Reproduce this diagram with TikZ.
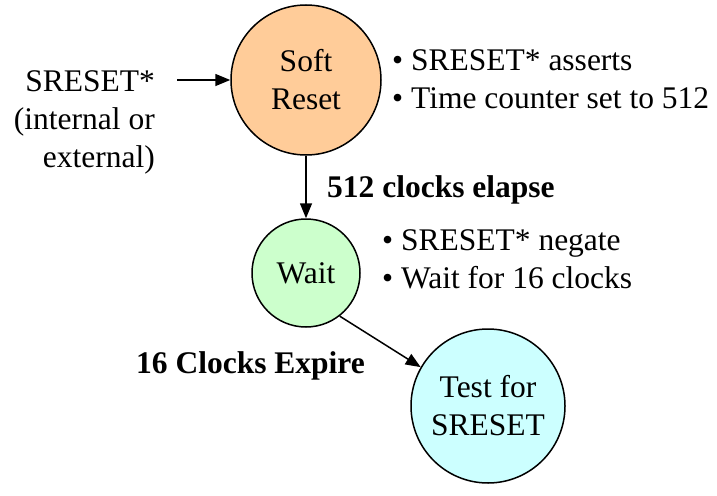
\documentclass[tikz,border=0pt]{standalone}
\usepackage{fontspec}
\setmainfont{Liberation Serif}
\usetikzlibrary{arrows.meta}
\definecolor{softfill}{HTML}{FFCC99}
\definecolor{waitfill}{HTML}{CCFFCC}
\definecolor{testfill}{HTML}{CCFFFF}
\begin{document}
\begin{tikzpicture}[x=1pt,y=-1pt,
  every node/.style={font=\fontsize{31.5}{38}\selectfont},
  state/.style={circle,draw=black,line width=1.5pt,inner sep=0pt,align=center},
  note/.style={align=left,inner sep=0pt},
  conn/.style={line width=1.5pt,-{Triangle[length=15pt,width=12pt]}},
  trans/.style={inner sep=0pt,font=\fontsize{31.5}{38}\selectfont\bfseries}]
  \useasboundingbox (0,0) rectangle (717,495);

  % states
  \node[state,fill=softfill,minimum size=150pt] (soft) at (306,80) {Soft\\Reset};
  \node[state,fill=waitfill,minimum size=108pt] (wait) at (306,273) {Wait};
  \node[state,fill=testfill,minimum size=154pt] (test) at (488,406) {Test for\\SRESET};

  % external reset input (anchored on the baseline of its last line)
  \node[align=right,inner sep=0pt,anchor=base east] (src) at (155,167)
    {SRESET*\\(internal or\\external)};
  \coordinate (in) at (177,80);
  \draw[conn] (in) -- (soft.west);

  % state actions (anchored on the baseline of their last line)
  \node[note,anchor=base west] (softnote) at (392,108)
    {\textbullet\ SRESET* asserts\\\textbullet\ Time counter set to 512};
  \node[note,anchor=base west] (waitnote) at (382,288)
    {\textbullet\ SRESET* negate\\\textbullet\ Wait for 16 clocks};

  % transitions
  \draw[conn] (soft.south) -- (wait.north);
  \node[trans,anchor=base west] (t1) at (327,197) {512 clocks elapse};
  \draw[conn] (wait.-52) -- (test.150);
  \node[trans,anchor=base west] (t2) at (136,373) {16 Clocks Expire};
\end{tikzpicture}
\end{document}
